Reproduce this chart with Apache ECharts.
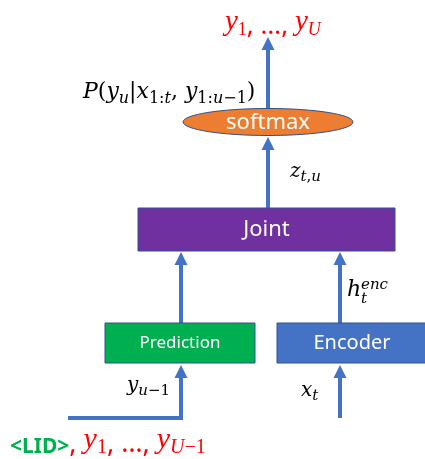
<!DOCTYPE html>
<html><head><meta charset="utf-8">
<script src="https://cdn.jsdelivr.net/npm/echarts@6/dist/echarts.min.js"></script>
<style>html,body{margin:0;padding:0;background:#fff}#main{width:425px;height:459px}</style>
</head><body><div id="main"></div>
<script>
// ---- diagram content ----
const blockNames  = ['softmax', 'Joint', 'Prediction', 'Encoder'];
const blockColors = ['#ED7D31', '#7030A0', '#00B050', '#4472C4'];
const outputLabel = '{v|y}{s|1}{c|, …, }{v|y}{si|U}';
const inputLabel  = '{lid|<LID>}{c|, }{v|y}{s|1}{c|, …, }{v|y}{si|U}{s|−1}';
const probLabel   = '{i|P}{r|(}{i|y}{si|u}{r||}{i|x}{sr|1:}{si|t}{r|, }{i|y}{sr|1:}{si|u}{sr|−1}{r|)}';
const jointInLabel = '{i|z}{si|t}{sr|,}{si|u}';
const predInLabel  = '{i|y}{si|u}{sr|−1}';
const encInLabel   = '{i|x}{si|t}';

// ---- layout (positions / sizes) ----
const geo = {
  softmax:    {cx: 268, cy: 122, rx: 85, ry: 13.5, font: 22},
  Joint:      {x: 138, y: 208, w: 257, h: 43, font: 22},
  Prediction: {x: 105, y: 323, w: 150, h: 40, font: 17},
  Encoder:    {x: 277, y: 323, w: 150, h: 40, font: 20}
};
const arrows = [
  [[268, 108], [268, 37]],
  [[268, 208], [268, 137]],
  [[181, 323], [181, 252]],
  [[340, 323], [340, 252]],
  [[68, 418], [181, 418], [181, 365]],
  [[340, 418], [340, 365]]
];
const BLUE = '#4472C4', EDGE = '#2F528F';
const serif = '"DejaVu Serif", "Liberation Serif", serif';
const tserif = '"Liberation Serif", "Times New Roman", serif';
const sans = '"Noto Sans", "Open Sans", sans-serif';

function mathRich(base, color) {
  const sub = Math.round(base * 0.74);
  return {
    i:  {fill: color, fontFamily: serif, fontStyle: 'italic', fontSize: base, lineHeight: Math.round(base * 1.3)},
    r:  {fill: color, fontFamily: serif, fontSize: base, lineHeight: Math.round(base * 1.3)},
    si: {fill: color, fontFamily: serif, fontStyle: 'italic', fontSize: sub, lineHeight: sub, verticalAlign: 'bottom'},
    sr: {fill: color, fontFamily: serif, fontSize: sub, lineHeight: sub, verticalAlign: 'bottom'}
  };
}
function redRich(base, subRatio) {
  const sub = Math.round(base * subRatio);
  return {
    v:  {fill: '#FF0000', fontFamily: tserif, fontStyle: 'italic', fontSize: base, lineHeight: Math.round(base * 1.2)},
    c:  {fill: '#FF0000', fontFamily: sans, fontSize: Math.round(base * 0.9), lineHeight: Math.round(base * 1.2), verticalAlign: 'bottom'},
    s:  {fill: '#FF0000', fontFamily: tserif, fontSize: sub, lineHeight: sub, verticalAlign: 'bottom'},
    si: {fill: '#FF0000', fontFamily: tserif, fontStyle: 'italic', fontSize: sub, lineHeight: sub, verticalAlign: 'bottom'},
    lid:{fill: '#00B050', fontFamily: sans, fontWeight: 'bold', fontSize: 21, lineHeight: Math.round(base * 1.2), verticalAlign: 'bottom'}
  };
}
function richText(x, y, text, rich) {
  return {type: 'text', x: x, y: y, silent: true,
    style: {text: text, rich: rich, align: 'left', verticalAlign: 'middle'}};
}

const elements = [];
arrows.forEach(function (pts) {
  const tip = pts[pts.length - 1];
  const shaft = pts.slice(0, -1).concat([[tip[0], tip[1] + 12]]);
  elements.push({type: 'polyline', shape: {points: shaft}, style: {stroke: BLUE, lineWidth: 4, fill: null, lineJoin: 'miter'}});
  elements.push({type: 'polygon', shape: {points: [[tip[0], tip[1]], [tip[0] - 6.5, tip[1] + 13], [tip[0] + 6.5, tip[1] + 13]]}, style: {fill: BLUE}});
});
blockNames.forEach(function (name, k) {
  const g = geo[name];
  if (g.rx) {
    elements.push({type: 'ellipse', shape: {cx: g.cx, cy: g.cy, rx: g.rx, ry: g.ry},
      style: {fill: blockColors[k], stroke: EDGE, lineWidth: 1}});
    elements.push({type: 'text', x: g.cx, y: g.cy + 1, style: {text: name, fill: '#fff', fontFamily: sans, fontSize: g.font, align: 'center', verticalAlign: 'middle'}});
  } else {
    elements.push({type: 'rect', shape: {x: g.x, y: g.y, width: g.w, height: g.h},
      style: {fill: blockColors[k], stroke: EDGE, lineWidth: 1}});
    elements.push({type: 'text', x: g.x + g.w / 2, y: g.y + g.h / 2, style: {text: name, fill: '#fff', fontFamily: sans, fontSize: g.font, align: 'center', verticalAlign: 'middle'}});
  }
});
elements.push(richText(225, 22, outputLabel, redRich(29, 0.62)));
elements.push(richText(10, 440, inputLabel, redRich(30, 0.66)));
elements.push(richText(83, 92, probLabel, mathRich(22, '#000')));
elements.push(richText(290, 172, jointInLabel, mathRich(20, '#000')));
elements.push(richText(127, 386, predInLabel, mathRich(20, '#000')));
elements.push(richText(301, 391, encInLabel, mathRich(20, '#000')));
// h_t^{enc}
elements.push({type: 'text', x: 347, y: 290, style: {text: 'h', fill: '#000', fontFamily: serif, fontStyle: 'italic', fontSize: 22, align: 'left', verticalAlign: 'middle'}});
elements.push({type: 'text', x: 361, y: 285, style: {text: 'enc', fill: '#000', fontFamily: serif, fontStyle: 'italic', fontSize: 15, align: 'left', verticalAlign: 'middle'}});
elements.push({type: 'text', x: 361, y: 299, style: {text: 't', fill: '#000', fontFamily: serif, fontStyle: 'italic', fontSize: 15, align: 'left', verticalAlign: 'middle'}});

const chart = echarts.init(document.getElementById('main'), null, {renderer: 'canvas'});
chart.setOption({backgroundColor: '#fff', animation: false, graphic: {elements: elements}});
</script></body></html>
